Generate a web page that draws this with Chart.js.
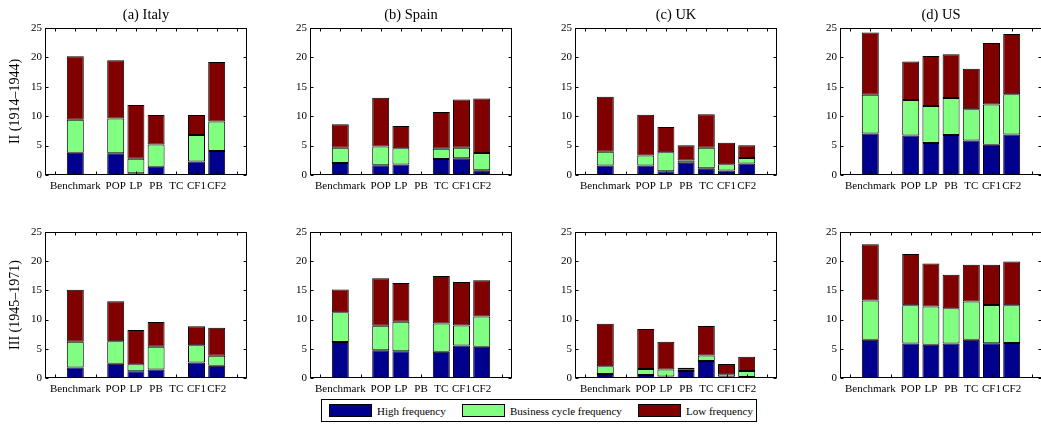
<!DOCTYPE html>
<html>
<head>
<meta charset="utf-8">
<script src="https://cdn.jsdelivr.net/npm/chart.js@4.4.1/dist/chart.umd.min.js"></script>
<style>
  html, body { margin: 0; padding: 0; background: #fff; width: 1041px; height: 426px; overflow: hidden; }
  canvas.panel { position: absolute; }
  #legend {
    position: absolute; left: 321px; top: 399px; width: 434px; height: 21px;
    border: 1px solid #000; box-sizing: content-box;
    font: 11px "Liberation Serif", "Times New Roman", serif; color: #000;
  }
  #legend .item { position: absolute; top: 0; height: 21px; display: flex; align-items: center; white-space: nowrap; }
  #legend .swatch { width: 41px; height: 11px; border: 1px solid #000; margin-right: 5px; }
</style>
</head>
<body>
<div id="legend"></div>
<script>
// Variance decomposition by frequency band, stacked per model
const models = ['Benchmark', 'POP', 'LP', 'PB', 'TC', 'CF1', 'CF2'];
// axis slots: an empty slot on each side and a gap after the benchmark
const slotLabels = ['', 'Benchmark', '', 'POP', 'LP', 'PB', 'TC', 'CF1', 'CF2', ''];
const countries = ['(a) Italy', '(b) Spain', '(c) UK', '(d) US'];
const periods = ['II (1914\u20131944)', 'III (1945\u20131971)'];
const seriesNames = ['High frequency', 'Business cycle frequency', 'Low frequency'];
const yTicks = [0, 5, 10, 15, 20, 25];

// Period II (1914-1944)
const highItalyII     = [3.8, 3.7, 0.3, 1.4, null, 2.3, 4.1];
const businessItalyII = [5.6, 5.9, 2.45, 3.8, null, 4.5, 5.0];
const lowItalyII      = [10.8, 9.9, 9.15, 5.0, null, 3.4, 10.1];

const highSpainII     = [2.05, 1.65, 1.8, null, 2.7, 2.85, 0.8];
const businessSpainII = [2.6, 3.2, 2.75, null, 1.75, 1.8, 2.95];
const lowSpainII      = [4.0, 8.3, 3.8, null, 6.25, 8.2, 9.25];

const highUKII        = [1.6, 1.6, 0.63, 2.1, 1.15, 0.75, 1.95];
const businessUKII    = [2.35, 1.7, 3.25, 0.35, 3.5, 1.07, 0.95];
const lowUKII         = [9.35, 6.95, 4.27, 2.6, 5.7, 3.65, 2.17];

const highUSII        = [7.05, 6.7, 5.45, 6.8, 5.85, 5.15, 6.9];
const businessUSII    = [6.6, 6.05, 6.3, 6.3, 5.35, 6.85, 6.85];
const lowUSII         = [10.6, 6.55, 8.5, 7.45, 6.85, 10.45, 10.25];

// Period III (1945-1971)
const highItalyIII     = [1.8, 2.45, 1.15, 1.45, null, 2.65, 2.1];
const businessItalyIII = [4.4, 3.85, 1.2, 3.9, null, 2.95, 1.7];
const lowItalyIII      = [8.9, 6.85, 5.85, 4.25, null, 3.25, 4.8];

const highSpainIII     = [6.15, 4.75, 4.6, null, 4.5, 5.55, 5.35];
const businessSpainIII = [5.1, 4.2, 5.05, null, 4.85, 3.45, 5.2];
const lowSpainIII      = [3.9, 8.15, 6.6, null, 8.1, 7.45, 6.2];

const highUKIII        = [0.7, 0.5, 0.25, 1.2, 2.9, 0.2, 0.15];
const businessUKIII    = [1.3, 1.05, 1.2, 0.3, 0.95, 0.45, 1.05];
const lowUKIII         = [7.3, 6.85, 4.75, 0.25, 5.05, 1.75, 2.45];

const highUSIII        = [6.55, 5.9, 5.7, 5.9, 6.55, 5.95, 6.0];
const businessUSIII    = [6.7, 6.55, 6.55, 6.05, 6.55, 6.55, 6.45];
const lowUSIII         = [9.65, 8.8, 7.35, 5.75, 6.3, 6.9, 7.5];

const panelSeries = [
  [[highItalyII, businessItalyII, lowItalyII], [highSpainII, businessSpainII, lowSpainII],
   [highUKII, businessUKII, lowUKII], [highUSII, businessUSII, lowUSII]],
  [[highItalyIII, businessItalyIII, lowItalyIII], [highSpainIII, businessSpainIII, lowSpainIII],
   [highUKIII, businessUKIII, lowUKIII], [highUSIII, businessUSIII, lowUSIII]]
];

// styling
const seriesColors = ['#00008f', '#80ff80', '#800000'];
const FONT = '"Liberation Serif", "Times New Roman", serif';
const rowTop = [0, 204];
const axisLeft = [45, 310, 575, 840];
const Y_AXIS_W = 45, X_AXIS_H = 25, TOP_BLOCK = 28;
const CANVAS_W = 255;

Chart.defaults.color = '#000';
Chart.defaults.font.family = FONT;

function toSlots(values) {
  return slotLabels.map(l => {
    const i = models.indexOf(l);
    return l && i >= 0 ? values[i] : null;
  });
}

// closed axes box with inward tick marks
const framePlugin = {
  id: 'frame',
  afterDatasetsDraw(chart) {
    const { ctx, chartArea: a, scales: { x, y } } = chart;
    ctx.save();
    ctx.strokeStyle = '#000';
    ctx.lineWidth = 1;
    const L = Math.round(a.left) + 0.5, R = Math.round(a.right) - 0.5;
    const T = Math.round(a.top) + 0.5, B = Math.round(a.bottom) - 0.5;
    ctx.strokeRect(L, T, R - L, B - T);
    ctx.beginPath();
    yTicks.forEach(v => {
      const py = Math.round(y.getPixelForValue(v)) + 0.5;
      ctx.moveTo(L, py); ctx.lineTo(L + 3, py);
      ctx.moveTo(R, py); ctx.lineTo(R - 3, py);
    });
    slotLabels.forEach((_, i) => {
      const px = Math.round(x.getPixelForValue(i)) + 0.5;
      ctx.moveTo(px, T); ctx.lineTo(px, T + 3);
      ctx.moveTo(px, B); ctx.lineTo(px, B - 3);
    });
    ctx.stroke();
    ctx.restore();
  }
};

for (let r = 0; r < 2; r++) {
  for (let c = 0; c < 4; c++) {
    const canvas = document.createElement('canvas');
    canvas.className = 'panel';
    const h = r === 0 ? 200 : 199;
    canvas.width = CANVAS_W; canvas.height = h;
    canvas.style.left = (axisLeft[c] - Y_AXIS_W) + 'px';
    canvas.style.top = rowTop[r] + 'px';
    canvas.style.width = CANVAS_W + 'px';
    canvas.style.height = h + 'px';
    document.body.appendChild(canvas);

    const datasets = panelSeries[r][c].map((vals, k) => ({
      label: seriesNames[k],
      data: toSlots(vals),
      backgroundColor: seriesColors[k],
      borderColor: '#000',
      borderWidth: 1,
      borderSkipped: false,
      categoryPercentage: 1,
      barPercentage: 0.84
    }));

    new Chart(canvas, {
      type: 'bar',
      data: { labels: slotLabels, datasets },
      options: {
        responsive: false,
        animation: false,
        layout: { padding: { top: r === 0 ? 0 : TOP_BLOCK, right: CANVAS_W - Y_AXIS_W - 202, left: 0, bottom: 0 } },
        plugins: {
          legend: { display: false },
          tooltip: { enabled: false },
          title: {
            display: r === 0,
            fullSize: false,
            text: countries[c],
            color: '#000',
            font: { family: FONT, size: 14.5, weight: 'normal' },
            padding: { top: 6.5, bottom: 4.1 }
          }
        },
        scales: {
          x: {
            stacked: true,
            grid: { display: false, drawTicks: false },
            border: { display: false },
            ticks: { autoSkip: false, maxRotation: 0, minRotation: 0, padding: 5, color: '#000',
                     font: { family: FONT, size: 11 } },
            afterFit(scale) { scale.height = X_AXIS_H; }
          },
          y: {
            stacked: true,
            min: 0, max: 25,
            afterBuildTicks(scale) { scale.ticks = yTicks.map(v => ({ value: v })); },
            grid: { display: false, drawTicks: false },
            border: { display: false },
            ticks: { padding: 3, color: '#000', font: { family: FONT, size: 11 } },
            title: {
              display: c === 0,
              text: periods[r],
              color: '#000',
              font: { family: FONT, size: 14, weight: 'normal' },
              padding: { top: 7, bottom: 0 }
            },
            afterFit(scale) { scale.width = Y_AXIS_W; }
          }
        }
      },
      plugins: [framePlugin]
    });
  }
}

// shared legend, built from the series names and fills
const legendEl = document.getElementById('legend');
const itemLeft = [7, 140, 316];
seriesNames.forEach((name, k) => {
  const item = document.createElement('div');
  item.className = 'item';
  item.style.left = itemLeft[k] + 'px';
  const sw = document.createElement('div');
  sw.className = 'swatch';
  sw.style.background = seriesColors[k];
  const tx = document.createElement('span');
  tx.textContent = name;
  item.appendChild(sw); item.appendChild(tx);
  legendEl.appendChild(item);
});
</script>
</body>
</html>
